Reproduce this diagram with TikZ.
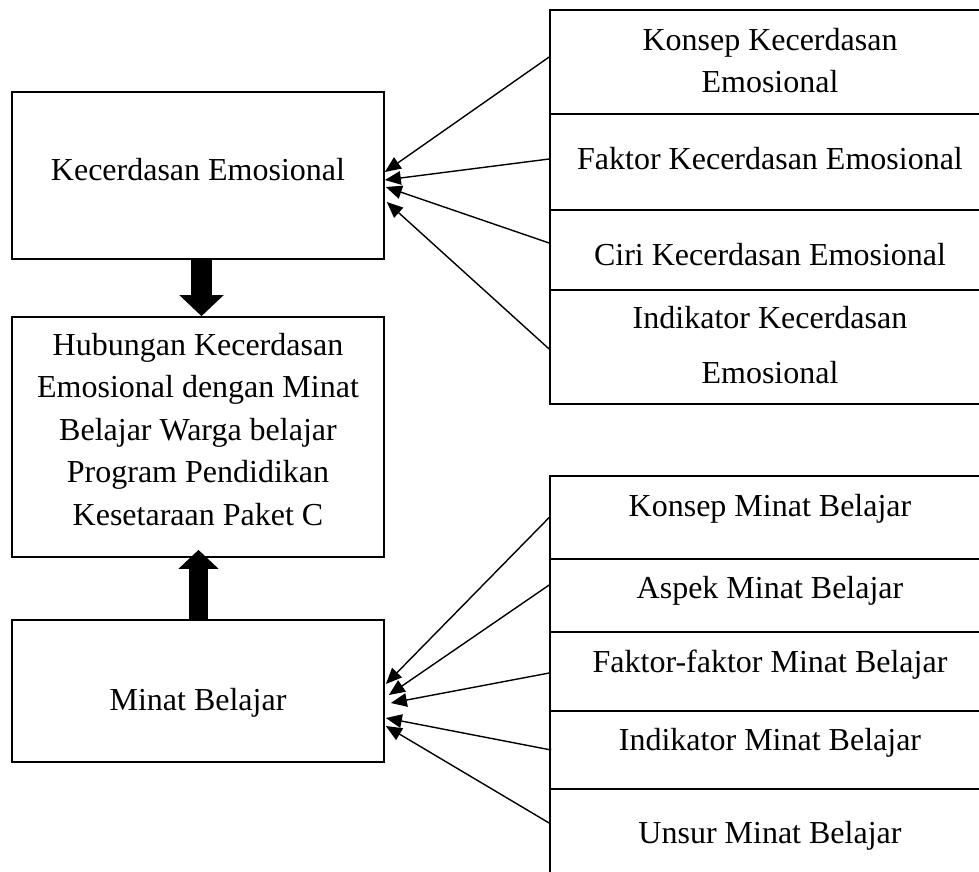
\documentclass[tikz,border=0pt]{standalone}
\usepackage{fontspec}
\setmainfont{Liberation Serif}
\usetikzlibrary{arrows.meta,calc}
\begin{document}
\begin{tikzpicture}[x=1pt,y=-1pt,
  lbox/.style={draw, line width=1.7pt, minimum width=372pt, inner sep=0pt},
  rbox/.style={draw, line width=1.7pt, minimum width=440pt, inner sep=0pt},
  txt/.style={font=\fontsize{32}{42.5}\selectfont, align=center, inner sep=0pt},
  link/.style={line width=1.4pt, -{Triangle[length=16pt,width=13.5pt]}},
  bigdown/.style={line width=21pt, -{Triangle[length=21pt,width=43pt]}},
  bigup/.style={line width=19pt, -{Triangle[length=19pt,width=39pt]}}]
\useasboundingbox (0,0) rectangle (979,871);
\fill[white] (0,0) rectangle (979,871);
\clip (0,0) rectangle (979,871);
% left boxes
\node[lbox, minimum height=167pt] (ke) at (198,175.5) {};
\node[lbox, minimum height=240pt] (hub) at (198,437) {};
\node[lbox, minimum height=142pt] (mb) at (198,691) {};
% right boxes, upper group
\node[rbox, minimum height=104pt] (r1) at (770,62) {};
\node[rbox, minimum height=96pt] (r2) at (770,162) {};
\node[rbox, minimum height=80pt] (r3) at (770,250) {};
\node[rbox, minimum height=114pt] (r4) at (770,347) {};
% right boxes, lower group
\node[rbox, minimum height=83pt] (s1) at (770,517.5) {};
\node[rbox, minimum height=73pt] (s2) at (770,595.5) {};
\node[rbox, minimum height=79pt] (s3) at (770,671.5) {};
\node[rbox, minimum height=78pt] (s4) at (770,750) {};
\node[rbox, minimum height=100pt] (s5) at (770,839) {};
% texts
\node[txt, anchor=base] (tke) at (198,180) {Kecerdasan Emosional};
\node[txt, anchor=north] (thub) at (198,333) {Hubungan Kecerdasan\\Emosional dengan Minat\\Belajar Warga belajar\\Program Pendidikan\\Kesetaraan Paket C};
\node[txt, anchor=base] (tmb) at (198,710) {Minat Belajar};
\node[txt, anchor=north, font=\fontsize{32}{42}\selectfont] (tr1) at (770,28) {Konsep Kecerdasan\\Emosional};
\node[txt, anchor=base] (tr2) at (770,169) {Faktor Kecerdasan Emosional};
\node[txt, anchor=base] (tr3) at (770,265) {Ciri Kecerdasan Emosional};
\node[txt, anchor=north, font=\fontsize{32}{55}\selectfont] (tr4) at (770,306) {Indikator Kecerdasan\\Emosional};
\node[txt, anchor=base] (ts1) at (770,516) {Konsep Minat Belajar};
\node[txt, anchor=base] (ts2) at (770,598) {Aspek Minat Belajar};
\node[txt, anchor=base] (ts3) at (770,672) {Faktor-faktor Minat Belajar};
\node[txt, anchor=base] (ts4) at (770,750) {Indikator Minat Belajar};
\node[txt, anchor=base] (ts5) at (770,843) {Unsur Minat Belajar};
% thin arrows, upper group
\draw[link] ([yshift=5pt]r1.west) -- ([yshift=3.5pt]ke.east);
\draw[link] ([yshift=3pt]r2.west) -- ([yshift=-4.5pt]ke.east);
\draw[link] ([yshift=7pt]r3.west) -- ([xshift=1pt,yshift=-11.5pt]ke.east);
\draw[link] ([yshift=-2pt]r4.west) -- ([xshift=2pt,yshift=-26.5pt]ke.east);
% thin arrows, lower group
\draw[link] (s1.west) -- ([xshift=1pt,yshift=7pt]mb.east);
\draw[link] ([yshift=10.5pt]s2.west) -- ([xshift=4pt,yshift=-4pt]mb.east);
\draw[link] ([yshift=-1.5pt]s3.west) -- ([xshift=6pt,yshift=-12pt]mb.east);
\draw[link] ([xshift=2pt]s4.west) -- ([xshift=1pt,yshift=-27pt]mb.east);
\draw[link] ([yshift=16pt]s5.west) -- ([xshift=1pt,yshift=-35pt]mb.east);
% thick arrows
\draw[bigdown] ([xshift=3.5pt]ke.south) -- ([xshift=3.5pt]hub.north);
\draw[bigup] ([xshift=0.5pt]mb.north) -- ([xshift=0.5pt,yshift=8pt]hub.south);
\end{tikzpicture}
\end{document}
